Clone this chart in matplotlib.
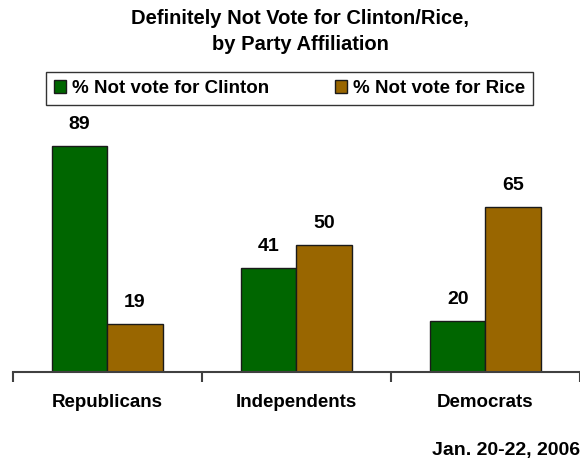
import matplotlib
matplotlib.use("Agg")
import matplotlib.pyplot as plt
import numpy as np

plt.rcParams['font.family'] = ['Liberation Sans', 'DejaVu Sans']

parties = ["Republicans", "Independents", "Democrats"]
clinton = [89, 41, 20]
rice = [19, 50, 65]
green = "#006600"
brown = "#996600"

fig = plt.figure(figsize=(5.8, 4.63), dpi=100)
ax = fig.add_axes([12.7/580, 91/463, 1 - 12.7/580, 254/463])

x = np.arange(len(parties))
w = 0.293
b1 = ax.bar(x - w/2, clinton, w, color=green, edgecolor="#1a1a1a", linewidth=1,
            label="% Not vote for Clinton")
b2 = ax.bar(x + w/2, rice, w, color=brown, edgecolor="#1a1a1a", linewidth=1,
            label="% Not vote for Rice")

for bars in (b1, b2):
    for r in bars:
        ax.text(r.get_x() + r.get_width()/2, r.get_height() + 8.5, str(int(r.get_height())),
                ha="center", va="center", fontsize=14, fontweight="bold")

ax.set_xlim(-0.5, 2.5)
ax.set_ylim(0, 100)
for s in ["top", "right", "left"]:
    ax.spines[s].set_visible(False)
ax.spines["bottom"].set_color("#404040")
ax.spines["bottom"].set_linewidth(1.5)
ax.set_yticks([])
ax.set_xticks([-0.5, 0.5, 1.5, 2.5])
ax.set_xticklabels([])
ax.tick_params(axis="x", direction="out", length=7, width=1.5, color="#404040")
for i, p in enumerate(parties):
    ax.text(i, -12, p, ha="center", va="center", fontsize=13.5, fontweight="bold")

fig.text(300/580, 1 - 31.5/463, "Definitely Not Vote for Clinton/Rice,\nby Party Affiliation",
         ha="center", va="center", fontsize=14.5, fontweight="bold", linespacing=1.45)

leg = fig.legend(handles=[b1, b2], loc="center",
                 bbox_to_anchor=(46/580, 1 - 104/463, 487/580, 31/463), mode="expand",
                 ncol=2, frameon=True, fancybox=False, edgecolor="black",
                 prop={"size": 13.5, "weight": "bold"}, handlelength=0.65, handleheight=0.7,
                 handletextpad=0.35, columnspacing=2.4, borderpad=0.4, borderaxespad=0)
leg.get_frame().set_linewidth(1)

fig.text(580/580, 1 - 450/463, "Jan. 20-22, 2006", ha="right", va="center",
         fontsize=14, fontweight="bold")

fig.savefig("out.png", dpi=100)
